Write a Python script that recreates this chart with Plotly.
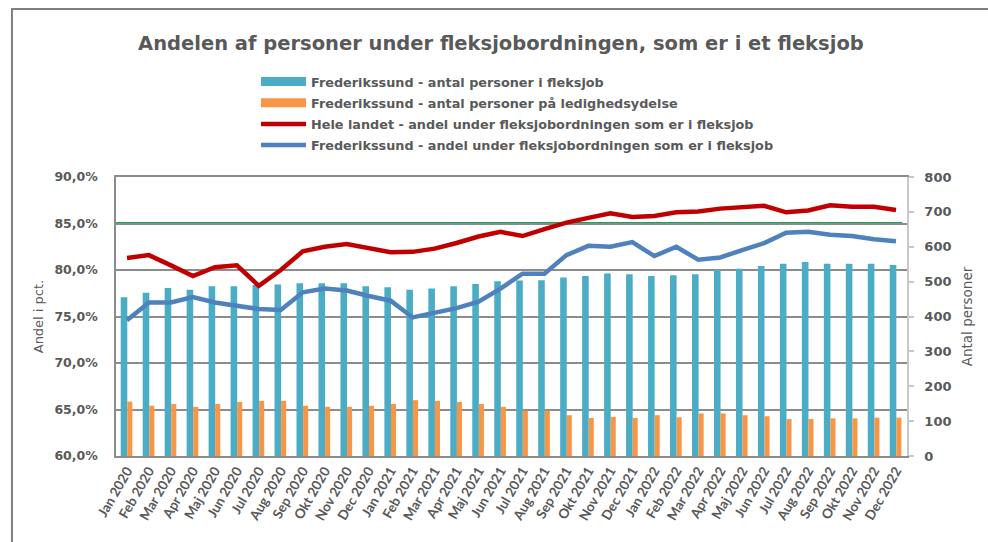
import plotly.graph_objects as go

months = ["Jan 2020", "Feb 2020", "Mar 2020", "Apr 2020", "Maj 2020", "Jun 2020",
          "Jul 2020", "Aug 2020", "Sep 2020", "Okt 2020", "Nov 2020", "Dec 2020",
          "Jan 2021", "Feb 2021", "Mar 2021", "Apr 2021", "Maj 2021", "Jun 2021",
          "Jul 2021", "Aug 2021", "Sep 2021", "Okt 2021", "Nov 2021", "Dec 2021",
          "Jan 2022", "Feb 2022", "Mar 2022", "Apr 2022", "Maj 2022", "Jun 2022",
          "Jul 2022", "Aug 2022", "Sep 2022", "Okt 2022", "Nov 2022", "Dec 2022"]

fleksjob_antal = [455, 468, 482, 477, 487, 487, 490, 492, 495, 495, 495, 487,
                  484, 477, 480, 487, 493, 501, 503, 504, 512, 516, 523, 521,
                  516, 518, 521, 534, 537, 545, 551, 556, 551, 551, 551, 548]

ledighed_antal = [156, 144, 149, 141, 149, 155, 158, 158, 144, 141, 141, 144,
                  149, 160, 158, 155, 149, 141, 130, 130, 117, 109, 112, 109,
                  117, 111, 122, 122, 117, 114, 106, 106, 108, 108, 110, 110]

hele_landet_andel = [81.3, 81.6, 80.5, 79.35, 80.3, 80.5, 78.3, 80.0, 82.0, 82.5, 82.8, 82.4,
                     81.9, 81.95, 82.3, 82.9, 83.6, 84.1, 83.65, 84.4, 85.1, 85.6, 86.1, 85.7,
                     85.8, 86.2, 86.3, 86.6, 86.7, 86.9, 86.2, 86.4, 86.95, 86.8, 86.8, 86.45]

frederikssund_andel = [74.6, 76.5, 76.5, 77.1, 76.5, 76.1, 75.8, 75.7, 77.6, 78.0, 77.8, 77.2,
                       76.7, 74.9, 75.4, 75.9, 76.6, 78.0, 79.6, 79.6, 81.6, 82.6, 82.5, 83.0,
                       81.5, 82.5, 81.1, 81.35, 82.15, 82.9, 84.0, 84.1, 83.8, 83.65, 83.3, 83.1]

maal_andel = 85.0

names = ["Frederikssund - antal personer i fleksjob",
         "Frederikssund - antal personer på ledighedsydelse",
         "Hele landet - andel under fleksjobordningen som er i fleksjob",
         "Frederikssund - andel under fleksjobordningen som er i fleksjob"]

C_BLUE_BAR = "#4BACC6"
C_ORANGE = "#F79646"
C_RED = "#C00000"
C_BLUE_LINE = "#4F81BD"
C_GREEN = "#00B050"
TXT = "#595959"
WIDE = "DejaVu Sans, sans-serif"
XFONT = "Lato, DejaVu Sans, sans-serif"

fig = go.Figure()

# bars on right axis (base y)
fig.add_trace(go.Bar(x=months, y=fleksjob_antal, name=names[0], marker_color=C_BLUE_BAR,
                     width=0.3, offset=-0.285, yaxis="y", showlegend=False,
                     marker_line_width=0))
fig.add_trace(go.Bar(x=months, y=ledighed_antal, name=names[1], marker_color=C_ORANGE,
                     width=0.23, offset=0.015, yaxis="y", showlegend=False,
                     marker_line_width=0))

# legend swatches for bars
fig.add_trace(go.Scatter(x=[None], y=[None], mode="lines", name=names[0], legendgroup="a",
                         line=dict(color=C_BLUE_BAR, width=9), yaxis="y"))
fig.add_trace(go.Scatter(x=[None], y=[None], mode="lines", name=names[1], legendgroup="b",
                         line=dict(color=C_ORANGE, width=9), yaxis="y"))

# lines on left axis (y2 overlay)
fig.add_trace(go.Scatter(x=months, y=hele_landet_andel, name=names[2], mode="lines",
                         legendgroup="c", line=dict(color=C_RED, width=4.5), yaxis="y2"))
fig.add_trace(go.Scatter(x=months, y=frederikssund_andel, name=names[3], mode="lines",
                         legendgroup="d", line=dict(color=C_BLUE_LINE, width=4.5), yaxis="y2"))

fig.add_shape(type="line", xref="paper", yref="y2", x0=0.0, x1=0.994,
              y0=maal_andel, y1=maal_andel, line=dict(color=C_GREEN, width=3), layer="below")

# outer frame
fig.add_shape(type="rect", xref="paper", yref="paper", x0=-0.1315, x1=1.2, y0=-0.6, y1=1.6022,
              line=dict(color="#7f7f7f", width=2), layer="below")

fig.update_layout(
    width=988, height=542,
    margin=dict(l=116, r=81, t=177, b=86),
    paper_bgcolor="white", plot_bgcolor="white",
    separators=",.",
    barmode="overlay",
    font=dict(family=WIDE, color=TXT),
    title=dict(text="Andelen af personer under fleksjobordningen, som er i et fleksjob",
               x=0.507, xref="container", xanchor="center",
               y=1 - 43 / 542, yref="container", yanchor="middle",
               font=dict(family=WIDE, size=19.5, color=TXT, weight="bold")),
    legend=dict(x=0.177, y=1.395, xanchor="left", yanchor="top", orientation="v",
                font=dict(family=WIDE, size=12.8, color=TXT, weight="bold"),
                itemwidth=45, tracegroupgap=1.5, traceorder="grouped",
                bgcolor="rgba(0,0,0,0)"),
    xaxis=dict(type="category", tickangle=-60, showgrid=False,
               showline=True, mirror=True, linecolor="#8c8c8c", linewidth=1.5,
               ticks="", tickfont=dict(family=XFONT, size=13.5, color=TXT, weight="bold"),
               range=[-0.5, 35.5]),
    yaxis=dict(side="right", range=[0, 800], dtick=100, showgrid=False,
               showline=True, linecolor="#c8c8c8", linewidth=1.5,
               ticks="outside", ticklen=5, tickcolor="#c8c8c8", tickwidth=1.5,
               ticklabelstandoff=8,
               tickfont=dict(family=WIDE, size=13, color=TXT, weight="bold"),
               title=dict(text="Antal personer", standoff=12,
                          font=dict(family=WIDE, size=13.5, color=TXT)),
               zeroline=False),
    yaxis2=dict(side="left", overlaying="y", range=[60, 90], dtick=5,
                tickformat=".1f", ticksuffix="%",
                showgrid=True, gridcolor="#8c8c8c", gridwidth=1.5,
                showline=True, linecolor="#8c8c8c", linewidth=1.5,
                ticks="", ticklabelstandoff=14,
                tickfont=dict(family=WIDE, size=12.5, color=TXT, weight="bold"),
                title=dict(text="Andel i pct.", standoff=8,
                           font=dict(family=WIDE, size=13, color=TXT)),
                zeroline=False),
)

fig.write_html("out.html", config={"displayModeBar": False},
               post_script="document.body.style.margin='0';")
